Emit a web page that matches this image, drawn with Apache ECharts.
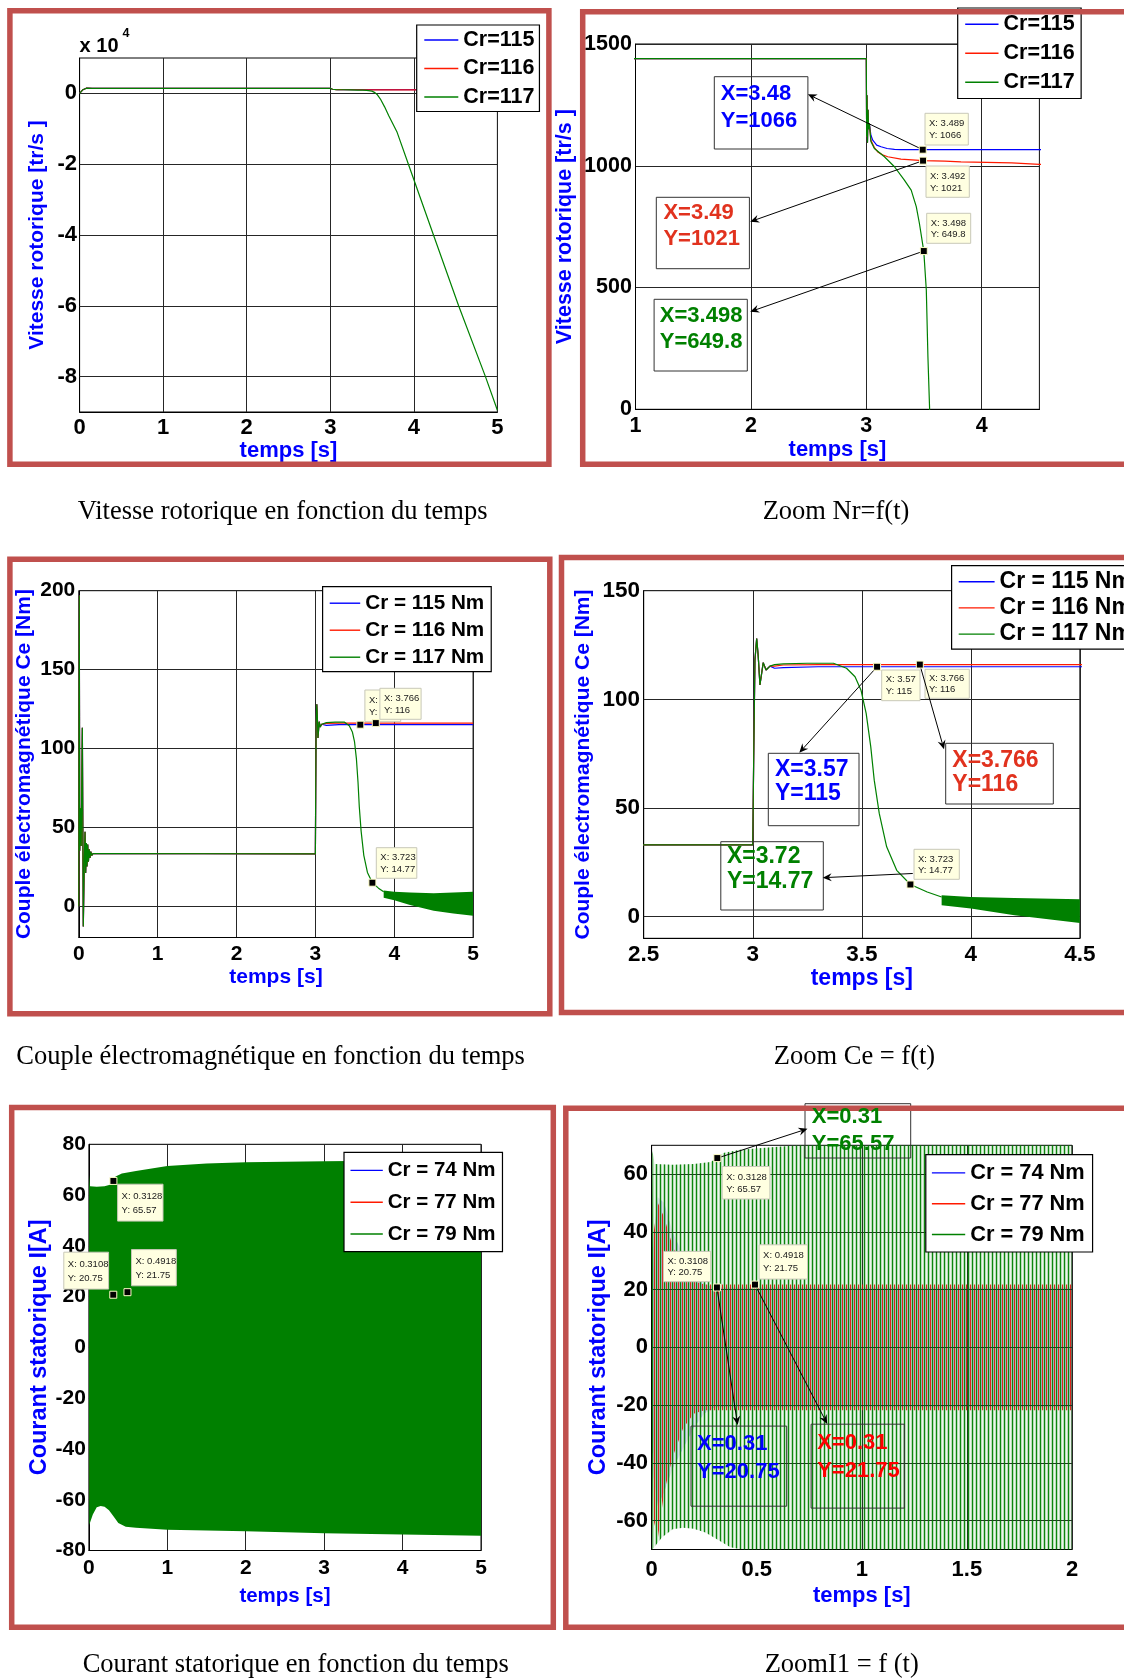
<!DOCTYPE html>
<html><head><meta charset="utf-8">
<script src="https://cdn.jsdelivr.net/npm/echarts@6/dist/echarts.min.js"></script>
<style>html,body{margin:0;padding:0;background:#fff}#c{width:1124px;height:1679px}</style>
</head><body><div id="c"></div>
<script>
// ================= DATA =================
// Rotor speed Nr (tr/s) - panels 1 & 2
const nrStartT = [0, 0.02, 0.04, 0.06, 0.08, 0.1, 0.15, 1, 2, 3.0];
const nrStartV = [0, 450, 1050, 1400, 1470, 1445, 1440, 1440, 1440, 1440];
const nrStepT = [3.003, 3.006, 3.01, 3.015, 3.02, 3.026];
const nrStepV = [1120, 1290, 1095, 1230, 1150, 1174];
const nr115T = [3.04, 3.056, 3.09, 3.128, 3.18, 3.244, 3.3, 3.489, 4, 4.5, 5];
const nr115V = [1125, 1105, 1085, 1078, 1071, 1067, 1066, 1066, 1066, 1066, 1066];
const nr116T = [3.04, 3.07, 3.099, 3.14, 3.186, 3.3, 3.492, 3.68, 3.82, 4.26, 4.5, 5];
const nr116V = [1105, 1075, 1057, 1045, 1037, 1027, 1021, 1019, 1016, 1012, 1006, 1003];
const nr117T = [3.04, 3.07, 3.157, 3.244, 3.33, 3.389, 3.433, 3.46, 3.498, 3.52, 3.534, 3.548, 3.56, 3.6, 3.65, 3.7, 3.8, 3.935, 4.235, 4.536, 4.857, 5];
const nr117V = [1100, 1071, 1037, 996, 941, 900, 832, 764, 649.8, 490, 216, 11, -300, -1600, -3800, -6300, -11000, -20000, -40000, -60000, -80000, -89500];

// Electromagnetic torque Ce (Nm) - panels 3 & 4
const ceStartT = [0, 0.003, 0.006, 0.012, 0.02, 0.03, 0.045, 0.057, 0.07, 0.079, 0.087, 0.096, 0.104, 0.113, 0.122, 0.132, 0.142, 0.152, 0.165, 0.18, 0.2, 3.0];
const ceStartV = [0, 120, 197, 35, 62, 38, 113, -13, 30, 47, 21, 40, 25, 39, 28, 36, 30.5, 34.5, 32, 33.3, 33, 33];
const ceStepT = [3.004, 3.01, 3.018, 3.025, 3.033, 3.048, 3.061, 3.079];
const ceStepV = [70, 118, 128, 120, 106.6, 116.9, 113.5, 115.3];
const ce115T = [3.1, 3.14, 3.3, 5];
const ce115V = [114.3, 114.6, 115, 115];
const ce116T = [3.1, 3.14, 3.3, 5];
const ce116V = [115.3, 115.8, 116, 116];
const ce117T = [3.1, 3.14, 3.25, 3.37, 3.43, 3.469, 3.496, 3.52, 3.541, 3.557, 3.58, 3.614, 3.66, 3.723, 3.8, 3.866];
const ce117V = [116, 116.3, 116.6, 116.6, 114.3, 110.4, 104.3, 93.5, 78.2, 62.8, 47.5, 32.1, 21.3, 14.77, 11.3, 9.0];
const ce117BandT = [3.866, 4.0, 4.2, 4.5, 4.75, 5.0];
const ce117BandHi = [9.8, 9.0, 8.5, 8.0, 8.5, 9.0];
const ce117BandLo = [5.2, 3.7, 0.6, -3.0, -4.8, -6.2];

// Stator current envelopes I (A) - panels 5 & 6
const i74T = [0, 0.01, 0.03, 0.06, 0.1, 0.15, 0.2, 0.25, 0.3, 2, 5];
const i74Hi = [0, 40, 52, 50, 40, 32, 26, 22, 20.75, 20.75, 20.75];
const i74Lo = [0, -45, -55, -50, -42, -35, -28, -23, -20.75, -20.75, -20.75];
const i77T = [0, 0.01, 0.03, 0.06, 0.1, 0.15, 0.2, 0.25, 0.3, 2, 5];
const i77Hi = [0, 40, 50, 45, 35, 27, 23, 21.75, 21.75, 21.75, 21.75];
const i77Lo = [0, -60, -66, -50, -38, -28, -23, -21.75, -21.75, -21.75, -21.75];
const i79HiT = [0, 0.004, 0.015, 0.1, 0.2, 0.28, 0.3128, 0.34, 0.42, 0.6, 1, 1.5, 2, 3, 4, 5];
const i79Hi = [0, 68, 63.5, 63.3, 63.5, 64.2, 65.57, 67.3, 68.5, 69.5, 71.5, 72.4, 72.9, 73.3, 73.6, 73.9];
const i79LoT = [0, 0.004, 0.015, 0.05, 0.1, 0.15, 0.2, 0.256, 0.3128, 0.375, 0.47, 0.6, 1, 2, 3, 4, 5];
const i79Lo = [0, -70, -69, -65.8, -63, -62.5, -62.8, -64.1, -66.5, -69.2, -70.6, -71, -71.8, -72.4, -73.2, -73.7, -74.2];

// Data tips
const nrTipX = [3.489, 3.492, 3.498], nrTipY = [1066, 1021, 649.8];
const ceTipX = [3.57, 3.766, 3.723], ceTipY = [115, 116, 14.77];
const iTipX = [0.3128, 0.3108, 0.4918], iTipY = [65.57, 20.75, 21.75];
const nrCallX = ['3.48', '3.49', '3.498'], nrCallY = ['1066', '1021', '649.8'];
const ceCallX = ['3.57', '3.766', '3.72'], ceCallY = ['115', '116', '14.77'];
const iCallX = ['0.31', '0.31', '0.31'], iCallY = ['65.57', '20.75', '21.75'];

// Tick labels
const p1YTicks = [-8, -6, -4, -2, 0];
const p3YTicks = [0, 50, 100, 150, 200];
const p4YTicks = [0, 50, 100, 150];
const p6YTicks = [-60, -40, -20, 0, 20, 40, 60];

// Legend names / titles
const nrNames = ['Cr=115', 'Cr=116', 'Cr=117'];
const ceNames = ['Cr = 115 Nm', 'Cr = 116 Nm', 'Cr = 117 Nm'];
const iNames = ['Cr = 74 Nm', 'Cr = 77 Nm', 'Cr = 79 Nm'];
const captions = ['Vitesse rotorique en fonction du temps', 'Zoom Nr=f(t)',
  'Couple électromagnétique en fonction du temps', 'Zoom Ce = f(t)',
  'Courant statorique en fonction du temps', 'ZoomI1 = f (t)'];

// ================= STYLE / LAYOUT =================
const FONT = "'Liberation Sans', Arial, Helvetica, sans-serif";
const SERIF = "'Liberation Serif', 'Times New Roman', serif";
const BLUE = '#0000FF', RED = '#FF1A00', GREEN = '#008000', RED2 = '#E1321E';
const GRIDC = '#262626';

const grids = [
  {left: 79.6, top: 58, width: 417.8, height: 354},
  {left: 635.5, top: 44, width: 403.9, height: 365.3},
  {left: 78.8, top: 590.7, width: 394.3, height: 346.8},
  {left: 643.7, top: 590.7, width: 436.2, height: 347.6},
  {left: 88.9, top: 1144.3, width: 392.1, height: 406.2},
  {left: 651.6, top: 1145.3, width: 420.4, height: 404.2}
];

function cat(a, b, c) { return a.concat(b, c || []); }
function pairs(xs, ys, s) { return xs.map((x, k) => [x, ys[k] / (s || 1)]); }
function fmtNum(v) { return String(+(+v).toFixed(6)); }

function xAx(gi, o) {
  return {
    type: 'value', gridIndex: gi, min: o.min, max: o.max, interval: o.interval,
    name: 'temps [s]', nameLocation: 'middle', nameGap: o.gap,
    nameTextStyle: {color: BLUE, fontWeight: 'bold', fontSize: o.nfs, fontFamily: FONT},
    axisLine: {show: true, onZero: false, lineStyle: {color: '#000', width: 1}},
    axisTick: {show: false},
    axisLabel: {show: true, color: '#000', fontWeight: 'bold', fontSize: o.fs, fontFamily: FONT, margin: o.margin,
      showMinLabel: true, showMaxLabel: true, hideOverlap: false,
      formatter: v => (o.intOnly && Math.abs(v - Math.round(v)) > 1e-6) ? '' : fmtNum(v)},
    splitLine: {show: true, lineStyle: {color: GRIDC, width: 1, type: 'solid'}}
  };
}
function yAx(gi, o) {
  return {
    type: 'value', gridIndex: gi, min: o.min, max: o.max, interval: o.interval,
    name: o.name, nameLocation: 'middle', nameGap: o.gap,
    nameTextStyle: {color: BLUE, fontWeight: 'bold', fontSize: o.nfs, fontFamily: FONT},
    axisLine: {show: true, onZero: false, lineStyle: {color: '#000', width: 1}},
    axisTick: {show: false},
    axisLabel: {show: true, color: '#000', fontWeight: 'bold', fontSize: o.fs, fontFamily: FONT, margin: o.margin,
      showMinLabel: true, showMaxLabel: true, hideOverlap: false,
      formatter: v => o.ticks ? (o.ticks.some(t => Math.abs(t - v) < 1e-6) ? fmtNum(v) : '') : fmtNum(v)},
    splitLine: {show: !o.ticks, lineStyle: {color: GRIDC, width: 1, type: 'solid'}}
  };
}
function gridLineSeries(gi, vals) {
  return {type: 'line', xAxisIndex: gi, yAxisIndex: gi, data: [], silent: true, z: 1,
    markLine: {silent: true, symbol: ['none', 'none'], label: {show: false}, animation: false,
      emphasis: {disabled: true},
      lineStyle: {color: GRIDC, width: 1, type: 'solid'}, data: vals.map(v => ({yAxis: v}))}};
}
function lineS(name, gi, data, color, z) {
  return {type: 'line', name, xAxisIndex: gi, yAxisIndex: gi, data, symbol: 'none', showSymbol: false,
    lineStyle: {color, width: 1.2}, itemStyle: {color, borderWidth: 0}, z: z, silent: true, clip: true,
    emphasis: {disabled: true}, animation: false};
}
function bandS(gi, tHi, hi, tLo, lo, fill, z) {
  return {type: 'custom', xAxisIndex: gi, yAxisIndex: gi, silent: true, z: z, animation: false,
    data: [[tHi[0], hi[0]]],
    renderItem: function (params, api) {
      if (params.dataIndex !== 0) return;
      const pts = [];
      for (let k = 0; k < tHi.length; k++) pts.push(api.coord([tHi[k], hi[k]]));
      for (let k = tLo.length - 1; k >= 0; k--) pts.push(api.coord([tLo[k], lo[k]]));
      const cs = params.coordSys;
      return {type: 'group', clipPath: {type: 'rect', shape: {x: cs.x, y: cs.y, width: cs.width, height: cs.height}},
        children: [{type: 'polygon', shape: {points: pts}, style: {fill: fill, stroke: null}}]};
    }};
}
function stripe(cols) {
  const c = document.createElement('canvas');
  c.width = cols.length; c.height = 4;
  const ctx = c.getContext('2d');
  cols.forEach((col, k) => { if (col) { ctx.fillStyle = col; ctx.fillRect(k, 0, 1, 4); } });
  return {image: c, repeat: 'repeat'};
}
function legendCfg(names, o) {
  const w = o.iw, c = 7, h = 0.7;
  return {data: names, orient: 'vertical', left: o.left, top: o.top, padding: o.pad, itemGap: o.gap,
    itemWidth: w, itemHeight: 14, selectedMode: false, z: 20,
    icon: 'path://M0,0M' + w + ',14M0,' + (c - h) + 'L' + w + ',' + (c - h) + 'L' + w + ',' + (c + h) + 'L0,' + (c + h) + 'Z',
    itemStyle: {borderWidth: 0},
    backgroundColor: '#fff', borderColor: '#000', borderWidth: 1.2, borderRadius: 0,
    textStyle: {color: '#000', fontWeight: 'bold', fontSize: o.fs, fontFamily: FONT, padding: 0}};
}

const nrAll = [cat(nrStartT, nrStepT, nr115T), cat(nrStartV, nrStepV, nr115V),
               cat(nrStartT, nrStepT, nr116T), cat(nrStartV, nrStepV, nr116V),
               cat(nrStartT, nrStepT, nr117T), cat(nrStartV, nrStepV, nr117V)];
const ceAll = [cat(ceStartT, ceStepT, ce115T), cat(ceStartV, ceStepV, ce115V),
               cat(ceStartT, ceStepT, ce116T), cat(ceStartV, ceStepV, ce116V),
               cat(ceStartT, ceStepT, ce117T), cat(ceStartV, ceStepV, ce117V)];
const cols3 = [BLUE, RED, GREEN];

const series = [
  gridLineSeries(0, p1YTicks), gridLineSeries(2, p3YTicks), gridLineSeries(3, p4YTicks), gridLineSeries(5, p6YTicks)
];
for (let g = 0; g < 2; g++) for (let k = 0; k < 3; k++)
  series.push(lineS(nrNames[k], g, pairs(nrAll[2 * k], nrAll[2 * k + 1], g === 0 ? 1e4 : 1), cols3[k], 3 + k));
for (let g = 2; g < 4; g++) {
  for (let k = 0; k < 3; k++) series.push(lineS(ceNames[k], g, pairs(ceAll[2 * k], ceAll[2 * k + 1]), cols3[k], 3 + k));
  series.push(bandS(g, ce117BandT, ce117BandHi, ce117BandT, ce117BandLo, GREEN, 6));
}
for (let k = 0; k < 3; k++) series.push(lineS(iNames[k], 4, [], cols3[k], 3));
series.push(bandS(4, i74T, i74Hi, i74T, i74Lo, BLUE, 3));
series.push(bandS(4, i77T, i77Hi, i77T, i77Lo, '#FF0000', 4));
series.push(bandS(4, i79HiT, i79Hi, i79LoT, i79Lo, GREEN, 5));
series.push(bandS(5, i74T, i74Hi, i74T, i74Lo, stripe(['rgba(120,60,200,0.12)', 'rgba(0,0,255,0.22)', 'rgba(120,60,200,0.12)', 'rgba(120,60,200,0.12)']), 3));
series.push(bandS(5, i77T, i77Hi, i77T, i77Lo, stripe([null, null, 'rgba(235,0,0,0.9)', 'rgba(220,80,120,0.12)']), 4));
series.push(bandS(5, i79HiT, i79Hi, i79LoT, i79Lo, stripe(['rgba(0,128,0,0.95)', 'rgba(0,128,0,0.28)', 'rgba(60,160,60,0.1)', 'rgba(0,128,0,0.28)']), 5));

const option = {
  animation: false,
  backgroundColor: '#fff',
  grid: grids.map(g => Object.assign({show: true, backgroundColor: '#fff', borderColor: '#000', borderWidth: 1,
    containLabel: false, outerBoundsMode: 'none'}, g)),
  xAxis: [
    xAx(0, {min: 0, max: 5, interval: 1, fs: 22, nfs: 22, gap: 26, margin: 4.7}),
    xAx(1, {min: 1, max: 4.5, interval: 1, fs: 21.5, nfs: 22, gap: 29.7, margin: 5.75, intOnly: true}),
    xAx(2, {min: 0, max: 5, interval: 1, fs: 21, nfs: 21, gap: 29.5, margin: 6.5}),
    xAx(3, {min: 2.5, max: 4.5, interval: 0.5, fs: 22.5, nfs: 23, gap: 27.7, margin: 4.5}),
    xAx(4, {min: 0, max: 5, interval: 1, fs: 21, nfs: 20.5, gap: 35, margin: 7.25}),
    xAx(5, {min: 0, max: 2, interval: 0.5, fs: 22, nfs: 22, gap: 35.3, margin: 9})
  ],
  yAxis: [
    yAx(0, {min: -9, max: 1, interval: 1, ticks: p1YTicks, name: 'Vitesse rotorique [tr/s ]', nfs: 21, gap: 31.5, margin: 2.6, fs: 22}),
    yAx(1, {min: 0, max: 1500, interval: 500, name: 'Vitesse rotorique [tr/s ]', nfs: 21.5, gap: 59, margin: 3.6, fs: 21.5}),
    yAx(2, {min: -20, max: 200, interval: 10, ticks: p3YTicks, name: 'Couple électromagnétique Ce [Nm]', nfs: 21, gap: 44.1, margin: 3.5, fs: 21}),
    yAx(3, {min: -10, max: 150, interval: 10, ticks: p4YTicks, name: 'Couple électromagnétique Ce [Nm]', nfs: 21, gap: 49.6, margin: 3.6, fs: 22.5}),
    yAx(4, {min: -80, max: 80, interval: 20, name: 'Courant statorique I[A]', nfs: 23.5, gap: 36.9, margin: 3, fs: 21}),
    yAx(5, {min: -70, max: 70, interval: 10, ticks: p6YTicks, name: 'Courant statorique I[A]', nfs: 23.5, gap: 40.8, margin: 3.6, fs: 22})
  ],
  legend: [
    legendCfg(nrNames, {left: 416.7, top: 25, pad: [4, 5, 3.5, 7.6], gap: 6.5, iw: 34, fs: 21.5}),
    legendCfg(nrNames, {left: 957.7, top: 8, pad: [5.25, 6.5, 5.25, 7.5], gap: 7, iw: 33.3, fs: 21.5}),
    legendCfg(ceNames, {left: 322.6, top: 586.7, pad: [6, 7, 4, 7.1], gap: 6, iw: 30.5, fs: 20.7}),
    legendCfg(ceNames, {left: 951.6, top: 565.7, pad: [4.5, 7, 3.5, 7.1], gap: 3.2, iw: 35.9, fs: 23}),
    legendCfg(iNames, {left: 344, top: 1152.4, pad: [7.5, 7, 7.2, 6.5], gap: 10.8, iw: 32.3, fs: 20.5}),
    legendCfg(iNames, {left: 925.8, top: 1154.7, pad: [7.2, 7.9, 6.5, 6.1], gap: 8.8, iw: 33.3, fs: 21.8})
  ],
  series: series
};

const chart = echarts.init(document.getElementById('c'), null, {renderer: 'canvas', width: 1124, height: 1679});
chart.setOption(option);

// ================= ANNOTATIONS (layout) =================
const borders = [
  [9.9, 10.7, 539, 453.5], [582.7, 11.7, 547.3, 452.5],
  [9.9, 559.2, 539.9, 454.6], [561.5, 557.5, 568.5, 455],
  [11.7, 1107.4, 541.6, 519.8], [565.8, 1108.3, 564.2, 518.9]
];
const captionPos = [[282.6, 511.7], [836, 511.7], [270.6, 1056.7], [854.5, 1056.7], [295.7, 1665], [841.7, 1665]];
const tipSets = [
  {gi: 1, xs: nrTipX, ys: nrTipY, boxes: [[925, 113.3, 43.3, 31.7], [926, 166, 43.3, 31.3], [926.7, 213.3, 44, 30]]},
  {gi: 2, xs: ceTipX, ys: ceTipY, boxes: [[364.9, 690, 35.8, 31.7], [379.9, 688.3, 41.2, 31], [376.3, 847.7, 40.5, 30.6]]},
  {gi: 3, xs: ceTipX, ys: ceTipY, boxes: [[881.7, 670, 38.3, 30.7], [925, 669.3, 44.3, 29], [914, 849.3, 45.3, 30]]},
  {gi: 4, xs: iTipX, ys: iTipY, boxes: [[117.6, 1184.2, 45.4, 36.9], [63.8, 1252.2, 44.8, 36.9], [131.5, 1249.6, 44.8, 36.2]]},
  {gi: 5, xs: iTipX, ys: iTipY, boxes: [[722.2, 1166.5, 47.7, 32.5], [663.4, 1251.4, 47.3, 30.3], [759.1, 1244.8, 48.4, 34.3]]}
];
const callSets = [
  {gi: 1, xs: nrTipX, ys: nrTipY, lx: nrCallX, ly: nrCallY, fs: 22, items: [
    {k: 0, box: [714.3, 76.7, 93.6, 72.3], tx: 720.8, ty: [94.3, 120.7], color: BLUE, to: [807.9, 94.3]},
    {k: 1, box: [656.3, 197.3, 93.1, 71.4], tx: 663.4, ty: [213.3, 239.3], color: RED2, to: [750.2, 221.7]},
    {k: 2, box: [654.1, 299.3, 93.2, 71.7], tx: 659.8, ty: [316, 342.3], color: GREEN, to: [750.2, 311.7]}]},
  {gi: 3, xs: ceTipX, ys: ceTipY, lx: ceCallX, ly: ceCallY, fs: 23, items: [
    {k: 0, box: [768.3, 753.3, 90.7, 72.4], tx: 775, ty: [770, 793.3], color: BLUE, to: [799.3, 752.7]},
    {k: 1, box: [945.7, 743.3, 107.6, 60.7], tx: 952.3, ty: [761, 785], color: RED2, to: [944, 749.3]},
    {k: 2, box: [720.8, 841.7, 102.5, 68.3], tx: 726.9, ty: [856.7, 881.7], color: GREEN, to: [822.7, 877.7], off: [2.3, -11]}]},
  {gi: 5, xs: iTipX, ys: iTipY, lx: iCallX, ly: iCallY, fs: 22, items: [
    {k: 0, box: [805, 1103.7, 105.7, 54.3], tx: 811.8, ty: [1116.6, 1143.6], color: GREEN, to: [807.5, 1128.8]},
    {k: 1, box: [691, 1426.1, 95.7, 80.1], tx: 697.1, ty: [1444.2, 1472.2], color: BLUE, to: [737.6, 1425]},
    {k: 2, box: [811.1, 1424.2, 93.2, 83.9], tx: 817.2, ty: [1442.7, 1471.1], color: '#FF0000', to: [827.2, 1423.9]}]}
];

function txt(text, x, y, o) {
  return {type: 'text', z: o.z || 61, silent: true,
    style: {text: text, x: x, y: y, fill: o.color || '#000', fontSize: o.fs, fontFamily: o.family || FONT,
      fontWeight: o.weight || 'normal', align: o.align || 'left', textAlign: o.align || 'left',
      verticalAlign: 'middle', textVerticalAlign: 'middle'}};
}
function arrow(x1, y1, x2, y2) {
  const dx = x2 - x1, dy = y2 - y1, d = Math.hypot(dx, dy), ux = dx / d, uy = dy / d, px = -uy, py = ux;
  const L = 9, W = 4, N = 6;
  return [
    {type: 'line', z: 62, silent: true, shape: {x1: x1, y1: y1, x2: x2 - ux * N, y2: y2 - uy * N}, style: {stroke: '#000', lineWidth: 1}},
    {type: 'polygon', z: 62, silent: true, shape: {points: [[x2, y2], [x2 - ux * L + px * W, y2 - uy * L + py * W],
      [x2 - ux * N, y2 - uy * N], [x2 - ux * L - px * W, y2 - uy * L - py * W]]}, style: {fill: '#000'}}
  ];
}

const els = [];
borders.forEach(b => els.push({type: 'rect', z: 57, silent: true, shape: {x: b[0], y: b[1], width: b[2], height: b[3]},
  style: {fill: null, stroke: '#C0504D', lineWidth: 5.5}}));
captions.forEach((c, i) => els.push(txt(c, captionPos[i][0], captionPos[i][1], {fs: 26.5, family: SERIF, align: 'center'})));
els.push(txt('x 10', 79.6, 46.3, {fs: 20, weight: 'bold'}));
els.push(txt('4', 122.6, 33.8, {fs: 12.5, weight: 'bold'}));

tipSets.forEach(s => {
  s.xs.forEach((x, k) => {
    const b = s.boxes[k];
    els.push({type: 'rect', z: 58 + k * 0.1, silent: true, shape: {x: b[0], y: b[1], width: b[2], height: b[3]},
      style: {fill: '#FFFFE1', stroke: '#C8C8B8', lineWidth: 1}});
    els.push(txt('X: ' + x, b[0] + 4, b[1] + b[3] * 0.32, {fs: 9.5, color: '#1a1a1a', z: 58.05 + k * 0.1}));
    els.push(txt('Y: ' + s.ys[k], b[0] + 4, b[1] + b[3] * 0.7, {fs: 9.5, color: '#1a1a1a', z: 58.05 + k * 0.1}));
    const p = chart.convertToPixel({gridIndex: s.gi}, [x, s.ys[k]]);
    els.push({type: 'rect', z: 63, silent: true, shape: {x: p[0] - 3.5, y: p[1] - 3.5, width: 7, height: 7},
      style: {fill: '#000', stroke: '#FFFFC8', lineWidth: 1}});
  });
});
callSets.forEach(s => {
  s.items.forEach(it => {
    const b = it.box;
    els.push({type: 'rect', z: 55, silent: true, shape: {x: b[0], y: b[1], width: b[2], height: b[3]},
      style: {fill: null, stroke: '#333', lineWidth: 1}});
    els.push(txt('X=' + s.lx[it.k], it.tx, it.ty[0], {fs: s.fs, weight: 'bold', color: it.color}));
    els.push(txt('Y=' + s.ly[it.k], it.tx, it.ty[1], {fs: s.fs, weight: 'bold', color: it.color}));
    const p = chart.convertToPixel({gridIndex: s.gi}, [s.xs[it.k], s.ys[it.k]]);
    const off = it.off || [0, 0];
    arrow(p[0] + off[0], p[1] + off[1], it.to[0], it.to[1]).forEach(e => els.push(e));
  });
});
chart.setOption({graphic: {elements: els}});
</script></body></html>
